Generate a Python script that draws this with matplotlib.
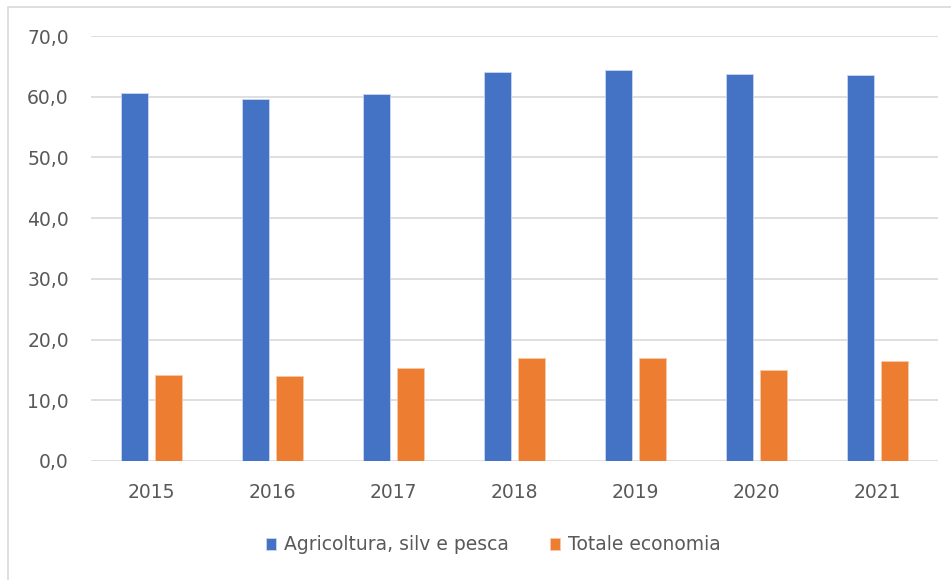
import matplotlib
matplotlib.use("Agg")
import matplotlib.pyplot as plt
import numpy as np
from matplotlib.patches import Rectangle
from matplotlib.ticker import FuncFormatter

years = ["2015", "2016", "2017", "2018", "2019", "2020", "2021"]
agricoltura = [60.6, 59.6, 60.4, 64.0, 64.4, 63.8, 63.6]
totale = [14.2, 14.0, 15.4, 16.9, 16.9, 15.0, 16.5]
series_names = ["Agricoltura, silv e pesca", "Totale economia"]

plt.rcParams['font.family'] = ['DejaVu Sans']
text_color = "#595959"
blue = "#4472C4"
orange = "#ED7D31"

fig = plt.figure(figsize=(9.51, 5.80), dpi=100)
ax = fig.add_axes([91/951, 1-461/580, (938-91)/951, (461-36)/580])

x = np.arange(len(years))
w = 0.22
off = 0.142
ax.bar(x - off, agricoltura, w, color=blue, edgecolor="#c9d6ef", linewidth=0.6, label=series_names[0], zorder=3)
ax.bar(x + off, totale, w, color=orange, edgecolor="#f6c9a8", linewidth=0.6, label=series_names[1], zorder=3)

ax.set_xlim(-0.5, len(years) - 0.5)
ax.set_ylim(0, 70)
ax.set_yticks(np.arange(0, 71, 10))
ax.yaxis.set_major_formatter(FuncFormatter(lambda v, p: f"{v:.1f}".replace(".", ",")))
ax.set_xticks(x)
ax.set_xticklabels(years)
ax.grid(axis="y", color="#d9d9d9", linewidth=1.2, zorder=0)
for s in ax.spines.values():
    s.set_visible(False)
ax.tick_params(axis="both", length=0, labelsize=13.5, colors=text_color)
ax.tick_params(axis="y", pad=16)
ax.tick_params(axis="x", pad=16)

leg = fig.legend(loc="center", bbox_to_anchor=(493/951, 1-545/580), ncol=2, frameon=False,
                 fontsize=13.5, handlelength=0.55, handleheight=0.55, handletextpad=0.4,
                 columnspacing=2.2, labelcolor=text_color)

fig.patches.append(Rectangle((8/951, -0.1), 1.2, 1 - 7/580 + 0.1, transform=fig.transFigure,
                             fill=False, edgecolor="#d9d9d9", linewidth=1.2))

fig.savefig("out.png", dpi=100)
